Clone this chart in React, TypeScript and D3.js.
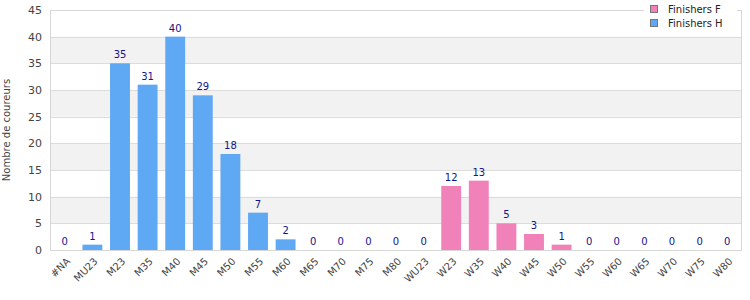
import React, { useEffect, useRef } from "react";
import * as d3 from "d3";

const categories = [
  "#NA", "MU23", "M23", "M35", "M40", "M45", "M50", "M55", "M60", "M65", "M70", "M75", "M80",
  "WU23", "W23", "W35", "W40", "W45", "W50", "W55", "W60", "W65", "W70", "W75", "W80",
];
const finishersH = [0, 1, 35, 31, 40, 29, 18, 7, 2, 0, 0, 0, 0, null, null, null, null, null, null, null, null, null, null, null, null];
const finishersF = [null, null, null, null, null, null, null, null, null, null, null, null, null, 0, 12, 13, 5, 3, 1, 0, 0, 0, 0, 0, 0];
const yTicks = [0, 5, 10, 15, 20, 25, 30, 35, 40, 45];

const series = [
  { name: "Finishers F", values: finishersF, color: "#f182b9" },
  { name: "Finishers H", values: finishersH, color: "#5fa8f3" },
];

export default function App() {
  const svgRef = useRef<SVGSVGElement | null>(null);

  useEffect(() => {
    if (!svgRef.current) return;
    d3.select(svgRef.current).selectAll("*").remove();

    const W = 750, H = 300;
    const margin = { top: 10, right: 9, bottom: 50, left: 51 };
    const width = W - margin.left - margin.right;
    const height = H - margin.top - margin.bottom;
    const font = "DejaVu Sans, Verdana, sans-serif";
    const fs = 10;

    const svg = d3.select(svgRef.current)
      .attr("width", W)
      .attr("height", H)
      .style("position", "absolute")
      .style("left", "0px")
      .style("top", "0px")
      .style("font-family", font);

    const g = svg.append("g").attr("transform", `translate(${margin.left},${margin.top})`);

    const x = d3.scaleBand().domain(categories).range([0, width]).paddingInner(0.28).paddingOuter(0.14);
    const y = d3.scaleLinear().domain([0, 45]).range([height, 0]);

    // alternating bands
    for (let i = 0; i < yTicks.length - 1; i++) {
      if (i % 2 === 1) {
        g.append("rect")
          .attr("x", 0)
          .attr("width", width)
          .attr("y", y(yTicks[i + 1]))
          .attr("height", y(yTicks[i]) - y(yTicks[i + 1]))
          .attr("fill", "#f2f2f2");
      }
    }

    // gridlines
    g.append("g")
      .selectAll("line")
      .data(yTicks)
      .join("line")
      .attr("x1", 0)
      .attr("x2", width)
      .attr("y1", (d) => Math.round(y(d)) + 0.5)
      .attr("y2", (d) => Math.round(y(d)) + 0.5)
      .attr("stroke", "#dcdcdc");

    // frame
    g.append("rect")
      .attr("x", -0.5)
      .attr("y", 0.5)
      .attr("width", width + 1)
      .attr("height", height)
      .attr("fill", "none")
      .attr("stroke", "#d6d6d6");

    // y tick labels
    g.append("g")
      .selectAll("text")
      .data(yTicks)
      .join("text")
      .attr("x", -9)
      .attr("y", (d) => y(d))
      .attr("dy", "0.35em")
      .attr("text-anchor", "end")
      .attr("font-size", fs + 1)
      .attr("fill", "#444")
      .text((d) => d);

    // x tick labels
    g.append("g")
      .selectAll("text")
      .data(categories)
      .join("text")
      .attr("transform", (d) => `translate(${(x(d) ?? 0) + x.bandwidth() / 2 + 1},${height + 7}) rotate(-45)`)
      .attr("text-anchor", "end")
      .attr("dy", "0.7em")
      .attr("font-size", fs)
      .attr("fill", "#444")
      .text((d) => d);

    // bars + value labels
    series.forEach((s) => {
      const pts = categories
        .map((c, i) => ({ c, v: s.values[i] }))
        .filter((p) => p.v !== null) as { c: string; v: number }[];
      g.append("g")
        .selectAll("rect")
        .data(pts.filter((p) => p.v > 0))
        .join("rect")
        .attr("x", (p) => x(p.c) ?? 0)
        .attr("width", x.bandwidth())
        .attr("y", (p) => y(p.v))
        .attr("height", (p) => y(0) - y(p.v))
        .attr("fill", s.color);
      g.append("g")
        .selectAll("text")
        .data(pts)
        .join("text")
        .attr("x", (p) => (x(p.c) ?? 0) + x.bandwidth() / 2)
        .attr("y", (p) => y(p.v) - 5)
        .attr("text-anchor", "middle")
        .attr("font-size", fs)
        .attr("fill", "#14148c")
        .text((p) => p.v);
    });

    // y axis title
    svg.append("text")
      .attr("transform", `translate(6,${margin.top + height / 2}) rotate(-90)`)
      .attr("text-anchor", "middle")
      .attr("dy", "0.35em")
      .attr("font-size", fs)
      .attr("fill", "#444")
      .text("Nombre de coureurs");

    // legend
    const lg = svg.append("g").attr("transform", "translate(644,0)");
    lg.append("rect").attr("x", 0).attr("y", 0).attr("width", 93).attr("height", 30).attr("fill", "#fff");
    series.forEach((s, i) => {
      lg.append("rect")
        .attr("x", 6.5)
        .attr("y", 5.5 + i * 14)
        .attr("width", 7)
        .attr("height", 7)
        .attr("fill", s.color)
        .attr("stroke", "#777");
      lg.append("text")
        .attr("x", 24)
        .attr("y", 9 + i * 14)
        .attr("dy", "0.35em")
        .attr("font-size", fs)
        .attr("fill", "#222")
        .text(s.name);
    });
  }, []);

  return <svg ref={svgRef} />;
}
